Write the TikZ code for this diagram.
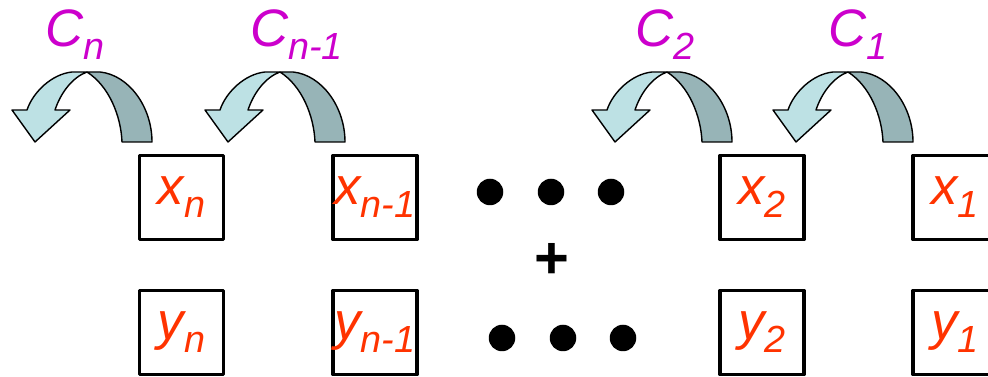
\documentclass[tikz,border=0pt]{standalone}
\usepackage{fontspec}
\setmainfont{Liberation Sans}
\usetikzlibrary{positioning}
\definecolor{carryink}{HTML}{CC00CC}
\definecolor{digitink}{HTML}{FF3300}
\definecolor{frontband}{HTML}{BDE1E4}
\definecolor{backband}{HTML}{97B4B7}
\newcommand{\lowsub}[1]{\raisebox{-7.4pt}{\fontsize{21.5}{24}\selectfont #1}}
\tikzset{
  adder/.style={font=\fontsize{30}{36}\selectfont\itshape, line join=round},
  digit/.style={draw=black, line width=2pt, minimum size=1.68cm,
    inner sep=0pt, text=digitink},
  carrylabel/.style={anchor=base west, inner sep=0pt, text=carryink},
  dot/.style={circle, fill=black, minimum size=0.53cm, inner sep=0pt},
  % twisted ribbon arrow, origin at the crossover on top
  carry/.pic={
    \filldraw[fill=frontband, draw=black, line width=.8pt]
      (0,0) -- (-15,0) .. controls (-35,2) and (-54,20) .. (-60,38)
      -- (-75,38) -- (-52,70) -- (-17,38) -- (-32,38)
      .. controls (-26,20) and (-14,5) .. (0,0) -- cycle;
    \filldraw[fill=backband, draw=black, line width=.8pt]
      (0,0) -- (13,0) .. controls (42,3) and (65,35) .. (65,70)
      -- (35,70) .. controls (34,44) and (22,14) .. (0,0) -- cycle;
  },
}
\begin{document}
\begin{tikzpicture}[adder, x=0.02cm, y=-0.02cm]
  % Pixel grid of the reference, y downwards.
  \useasboundingbox (0,0) rectangle (988,377);
  \clip (0,0) rectangle (988,377);

  % ---------------- carries ----------------
  \pic at (87,72) {carry};
  \pic at (280,72) {carry};
  \pic at (667,72) {carry};
  \pic at (848,72) {carry};
  \node[carrylabel] (cn)   at (45,47)  {C\lowsub{n}};
  \node[carrylabel] (cnm)  at (250,47) {C\lowsub{n-1}};
  \node[carrylabel] (ctwo) at (635,47) {C\lowsub{2}};
  \node[carrylabel] (cone) at (828,47) {C\lowsub{1}};

  % ---------------- first number ----------------
  \node[digit] (xn)   at (181.5,197.5) {x\lowsub{n}};
  \node[digit] (xnm)  at (375,197.5)   {x\lowsub{n-1}};
  \node[digit] (xtwo) at (762,197.5)   {x\lowsub{2}};
  \node[digit] (xone) at (955,197.5)   {x\lowsub{1}};
  \node[dot] (xdota) at (490,192) {};
  \node[dot] (xdotb) at (551,192) {};
  \node[dot] (xdotc) at (611,192) {};

  % ---------------- second number ----------------
  \node[font=\fontsize{34}{40}\selectfont\bfseries, inner sep=0pt] (plus)
    at (552,261) {+};
  \node[digit] (yn)   at (181.5,332.5) {y\lowsub{n}};
  \node[digit] (ynm)  at (375,332.5)   {y\lowsub{n-1}};
  \node[digit] (ytwo) at (762,332.5)   {y\lowsub{2}};
  \node[digit] (yone) at (955,332.5)   {y\lowsub{1}};
  \node[dot] (ydota) at (502,338) {};
  \node[dot] (ydotb) at (563,338) {};
  \node[dot] (ydotc) at (623,338) {};
\end{tikzpicture}
\end{document}
